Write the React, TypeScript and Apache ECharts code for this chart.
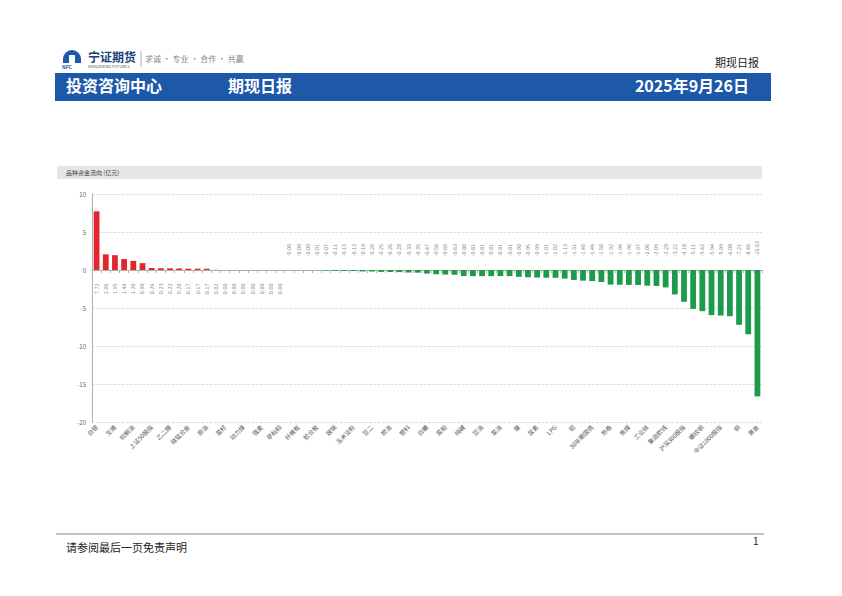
import React, { useEffect, useRef } from "react";
import * as echarts from "echarts";

const categories: string[] = [
  "白银", "鸡蛋", "生猪", "苹果", "棕榈油", "豆粕", "上证50股指", "红枣", "乙二醇", "PTA",
  "硅锰合金", "不锈钢", "原油", "锡", "菜籽", "粳米", "动力煤", "晚籼稻", "强麦", "普麦",
  "早籼稻", "粳稻", "纤维板", "线材", "胶合板", "玉米", "玻璃", "棉纱", "玉米淀粉", "PVC",
  "豆二", "沥青", "燃油", "低硫燃油", "塑料", "聚丙烯", "白糖", "豆一", "菜粕", "短纤",
  "纯碱", "纸浆", "豆油", "锌", "菜油", "烧碱", "镍", "对二甲苯", "尿素", "苯乙烯",
  "LPG", "铅", "铝", "10年期国债", "30年期国债", "氧化铝", "热卷", "多晶硅", "焦煤", "焦炭",
  "工业硅", "丙烯", "集运欧线", "中证500股指", "沪深300股指", "铁矿", "螺纹钢", "棉花", "中证1000股指", "碳酸锂",
  "铜", "硅铁", "黄金",
];

const flows: number[] = [
  7.72, 2.06, 1.95, 1.44, 1.2, 0.9, 0.26, 0.23, 0.22, 0.2,
  0.17, 0.17, 0.17, 0.02, 0.004, 0.004, 0.004, 0.004, 0.004, 0.004,
  0.004, -0.004, -0.004, -0.004, -0.01, -0.07, -0.11, -0.13, -0.13, -0.19,
  -0.2, -0.25, -0.26, -0.28, -0.33, -0.35, -0.47, -0.56, -0.6, -0.63,
  -0.8, -0.81, -0.81, -0.81, -0.81, -0.81, -0.9, -0.95, -0.99, -1.01,
  -1.02, -1.13, -1.31, -1.4, -1.46, -1.58, -1.92, -1.94, -1.96, -1.97,
  -2.06, -2.09, -2.29, -3.22, -4.18, -5.11, -5.42, -5.94, -5.99, -6.08,
  -7.21, -8.46, -16.63,
];

const yTicks = { min: -20, max: 10, interval: 5 };

const RED = "#e3262d";
const GREEN = "#1b9b4b";
const BLUE = "#1d59a8";
const FONT = '"Noto Sans CJK SC", "Noto Sans", sans-serif';

export default function App() {
  const ref = useRef<HTMLDivElement>(null);

  useEffect(() => {
    document.body.style.margin = "0";
    if (!ref.current) return;
    const chart = echarts.init(ref.current, null, { renderer: "svg" });

    const t = (x: number, y: number, text: string, font: string, fill: string, align = "left") => ({
      type: "text",
      x,
      y,
      style: { text, font, fill, align, verticalAlign: "top" },
    });

    const option: any = {
      animation: false,
      backgroundColor: "#ffffff",
      textStyle: { fontFamily: FONT },
      grid: { left: 92, right: 80, top: 194, bottom: 174, containLabel: false },
      xAxis: [
        {
          type: "category",
          data: categories,
          position: "bottom",
          axisLine: { show: false, onZero: false },
          axisTick: { show: false },
          axisLabel: {
            interval: 1,
            rotate: 45,
            fontSize: 6,
            color: "#555",
            margin: 4,
          },
        },
        {
          type: "category",
          data: categories,
          position: "bottom",
          axisLine: { show: true, onZero: true, lineStyle: { color: "#b0b0b0", width: 1 } },
          axisTick: { show: true, length: 3, interval: 0, lineStyle: { color: "#b0b0b0" } },
          axisLabel: { show: false },
        },
      ],
      yAxis: {
        type: "value",
        min: yTicks.min,
        max: yTicks.max,
        interval: yTicks.interval,
        axisLine: { show: true, lineStyle: { color: "#b0b0b0" } },
        axisTick: { show: false },
        axisLabel: { fontSize: 6, color: "#666", margin: 6 },
        splitLine: { lineStyle: { color: "#d0d0d0", type: "dashed", width: 0.7 } },
      },
      series: [
        {
          type: "bar",
          xAxisIndex: 0,
          barWidth: 5.8,
          data: flows.map((v) => ({ value: v, itemStyle: { color: v >= 0 ? RED : GREEN } })),
        },
        {
          type: "scatter",
          xAxisIndex: 0,
          symbolSize: 1,
          itemStyle: { color: "rgba(0,0,0,0)" },
          silent: true,
          data: flows.map((v, i) => ({
            value: [i, 0],
            label: {
              show: true,
              position: v >= 0 ? "bottom" : "top",
              distance: 13,
              rotate: 90,
              align: v >= 0 ? "right" : "left",
              verticalAlign: "middle",
              fontSize: 5.5,
              color: "#666",
              formatter: () => v.toFixed(2),
            },
          })),
        },
      ],
      graphic: [
        { type: "rect", shape: { x: 63, y: 50, width: 18, height: 13, r: [9, 9, 0, 0] }, style: { fill: BLUE } },
        { type: "rect", shape: { x: 69, y: 55, width: 6, height: 8 }, style: { fill: "#ffffff" } },
        t(62, 64, "NFC", `bold 5px ${FONT}`, BLUE),
        t(88, 50, "宁证期货", `bold 12px ${FONT}`, "#1c3f7a"),
        t(88, 64, "NINGZHENG FUTURES", `4px ${FONT}`, "#555"),
        { type: "line", shape: { x1: 141, y1: 51, x2: 141, y2: 67 }, style: { stroke: "#999", lineWidth: 0.8 } },
        t(145, 54, "求诚 · 专业 · 合作 · 共赢", `8px ${FONT}`, "#888"),
        t(759, 56, "期现日报", `11px ${FONT}`, "#222", "right"),
        { type: "rect", shape: { x: 55, y: 73, width: 716, height: 28 }, style: { fill: BLUE } },
        t(66, 77, "投资咨询中心", `bold 16px ${FONT}`, "#fff"),
        t(228, 77, "期现日报", `bold 16px ${FONT}`, "#fff"),
        t(749, 77, "2025年9月26日", `bold 16px ${FONT}`, "#fff", "right"),
        { type: "rect", shape: { x: 57, y: 166, width: 705, height: 13 }, style: { fill: "#e6e6e6" } },
        t(66, 169, "品种资金流向 (亿元)", `6px ${FONT}`, "#444"),
        { type: "line", shape: { x1: 56, y1: 534, x2: 764, y2: 534 }, style: { stroke: "#888", lineWidth: 1 } },
        t(66, 541, "请参阅最后一页免责声明", `11px ${FONT}`, "#222"),
        t(753, 535, "1", `10px ${FONT}`, "#222"),
      ],
    };

    chart.setOption(option);
    return () => chart.dispose();
  }, []);

  return (
    <div
      ref={ref}
      style={{ position: "fixed", left: 0, top: 0, width: 842, height: 596, background: "#fff" }}
    />
  );
}
